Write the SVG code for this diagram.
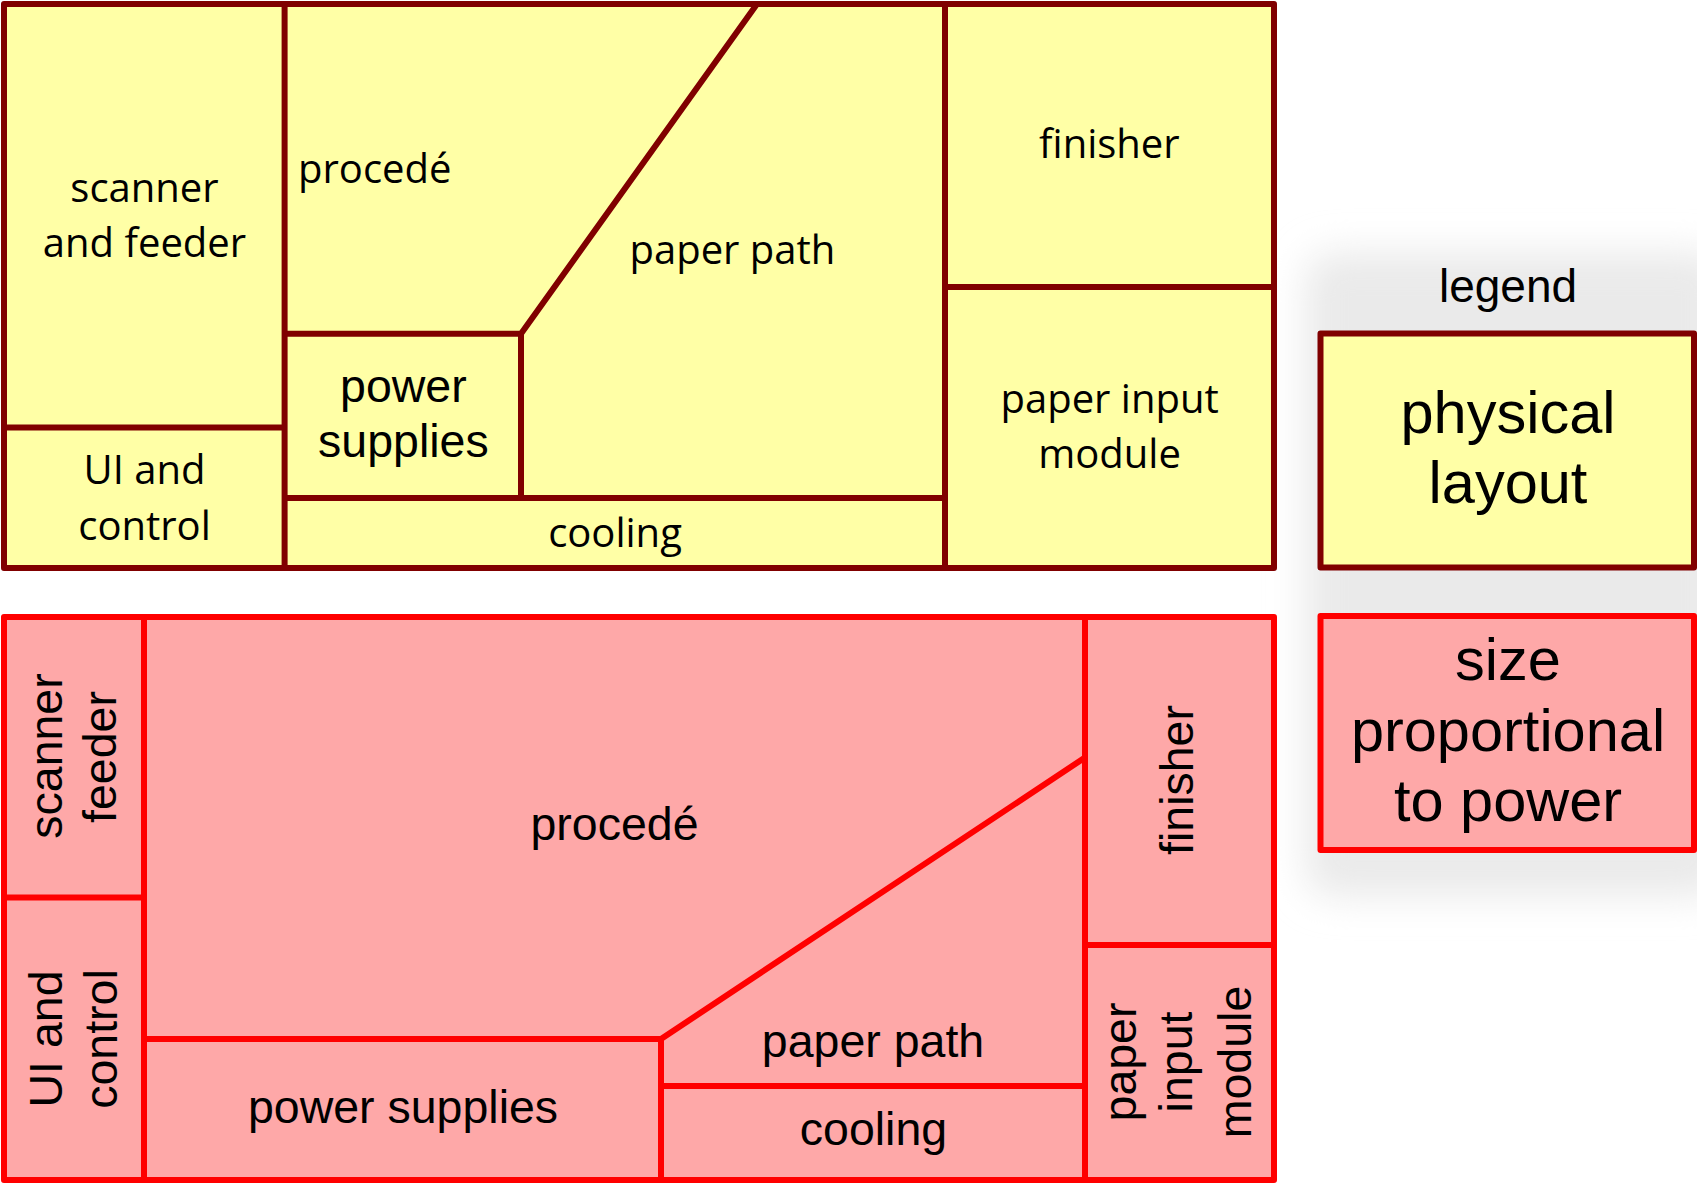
<svg xmlns="http://www.w3.org/2000/svg" width="1697" height="1187" viewBox="0 0 1697 1187">
  <defs>
    <filter id="soft" x="-20%" y="-20%" width="140%" height="140%">
      <feGaussianBlur stdDeviation="18"/>
    </filter>
    <style>
      .phys { fill: #FFFFA6; stroke: #800000; stroke-width: 6; stroke-linejoin: round; }
      .pow { fill: #FEA8A8; stroke: #FF0000; stroke-width: 6; stroke-linejoin: round; }
      .lphys { fill: none; stroke: #800000; stroke-width: 6; stroke-linecap: butt; }
      .lpow { fill: none; stroke: #FF0000; stroke-width: 6; stroke-linecap: butt; }
      .cal { font-family: "Open Sans", "Noto Sans", sans-serif; font-size: 40px; fill: #000; text-anchor: middle; }
      .ar { font-family: "Liberation Sans", Arial, sans-serif; font-size: 46.5px; fill: #000; text-anchor: middle; }
      .big { font-family: "Liberation Sans", Arial, sans-serif; font-size: 59.5px; fill: #000; text-anchor: middle; }
    </style>
  </defs>

  <rect width="1697" height="1187" fill="#FFFFFF"/>

  <!-- legend soft background -->
  <g id="legend-shadow">
    <rect x="1305" y="252" width="420" height="645" rx="30" fill="#EAEAEA" filter="url(#soft)"/>
  </g>

  <!-- top panel: physical layout -->
  <g id="physical-panel">
    <rect class="phys" x="4" y="4" width="1270" height="564"/>
  </g>

  <!-- bottom panel: size proportional to power -->
  <g id="power-panel">
    <rect class="pow" x="4" y="617" width="1270" height="563"/>
  </g>

  <g id="connectors">
    <!-- physical layout dividers -->
    <path class="lphys" d="M284.6,4 V568 M4,427.5 H284.6 M284.6,333.7 H521 V498 M521,333.7 L757,4 M284.6,498 H945 M945,4 V568 M945,287 H1274"/>
    <!-- power layout dividers -->
    <path class="lpow" d="M144,617 V1180 M4,897.5 H144 M144,1039 H661 V1180 M661,1039 L1085,757.5 M661,1086 H1085 M1085,617 V1180 M1085,945 H1274"/>
  </g>

  <!-- physical layout labels -->
  <g id="p-scanner">
    <text class="cal" x="144.5" y="202">scanner</text>
    <text class="cal" x="144.5" y="257">and feeder</text>
  </g>
  <g id="p-ui">
    <text class="cal" x="144.5" y="484">UI and</text>
    <text class="cal" x="144.5" y="539.5">control</text>
  </g>
  <g id="p-procede">
    <text class="cal" x="298" y="183.3" style="text-anchor:start">procedé</text>
  </g>
  <g id="p-power">
    <text class="ar" x="403.4" y="401.8">power</text>
    <text class="ar" x="403.4" y="457.3">supplies</text>
  </g>
  <g id="p-paperpath">
    <text class="cal" x="732.4" y="264">paper path</text>
  </g>
  <g id="p-cooling">
    <text class="cal" x="615" y="546.7">cooling</text>
  </g>
  <g id="p-finisher">
    <text class="cal" x="1109.4" y="157.7">finisher</text>
  </g>
  <g id="p-input">
    <text class="cal" x="1109.6" y="412.6">paper input</text>
    <text class="cal" x="1109.6" y="467.7">module</text>
  </g>

  <!-- power layout labels -->
  <g id="w-scanner">
    <text class="ar" transform="translate(62,756) rotate(-90)">scanner</text>
    <text class="ar" transform="translate(116,757) rotate(-90)">feeder</text>
  </g>
  <g id="w-ui">
    <text class="ar" transform="translate(62,1039) rotate(-90)">UI and</text>
    <text class="ar" transform="translate(117,1039) rotate(-90)">control</text>
  </g>
  <g id="w-procede">
    <text class="ar" x="614.5" y="840">procedé</text>
  </g>
  <g id="w-power">
    <text class="ar" x="403" y="1123">power supplies</text>
  </g>
  <g id="w-paperpath">
    <text class="ar" x="873" y="1057">paper path</text>
  </g>
  <g id="w-cooling">
    <text class="ar" x="873.5" y="1145">cooling</text>
  </g>
  <g id="w-finisher">
    <text class="ar" transform="translate(1193,780) rotate(-90)">finisher</text>
  </g>
  <g id="w-input">
    <text class="ar" transform="translate(1136,1062) rotate(-90)">paper</text>
    <text class="ar" transform="translate(1192,1062) rotate(-90)">input</text>
    <text class="ar" transform="translate(1251,1062) rotate(-90)">module</text>
  </g>

  <!-- legend -->
  <g id="legend-title">
    <text class="ar" x="1508" y="301.7" style="font-size:46px">legend</text>
  </g>
  <g id="legend-physical">
    <rect class="phys" x="1320.5" y="333.5" width="373.5" height="234"/>
    <text class="big" x="1508" y="432.7">physical</text>
    <text class="big" x="1508" y="503.3">layout</text>
  </g>
  <g id="legend-power">
    <rect class="pow" x="1320.5" y="616" width="373.5" height="234"/>
    <text class="big" x="1508" y="680">size</text>
    <text class="big" x="1508" y="750.5">proportional</text>
    <text class="big" x="1508" y="821">to power</text>
  </g>
</svg>
